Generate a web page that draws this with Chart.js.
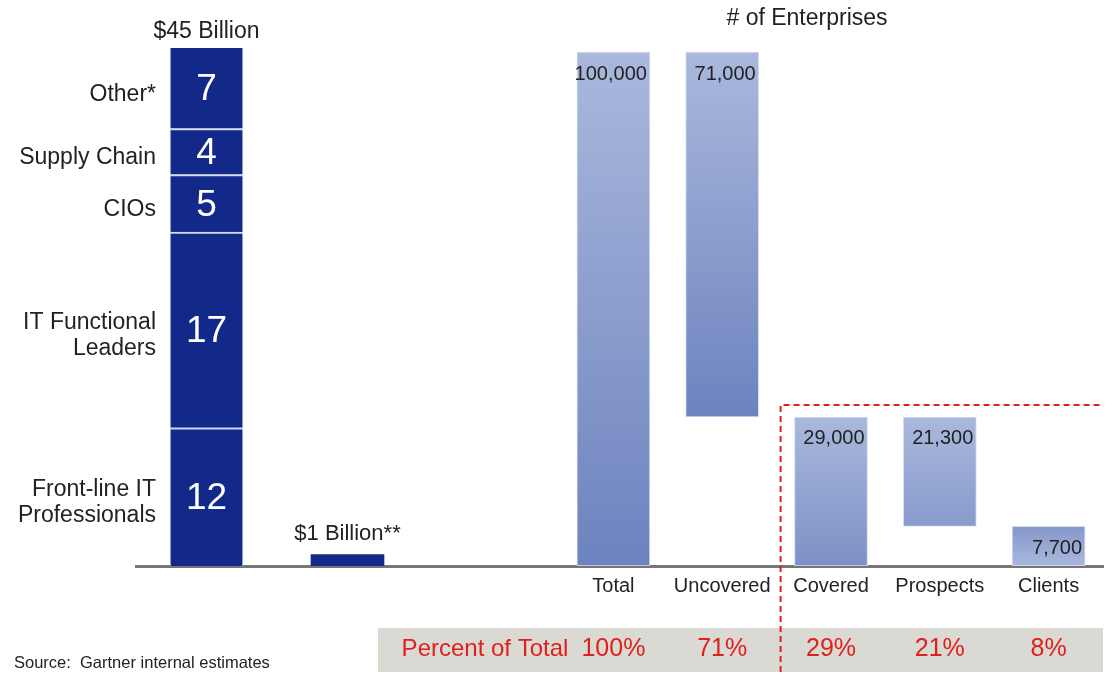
<!DOCTYPE html>
<html>
<head>
<meta charset="utf-8">
<title>IT spend and enterprise coverage</title>
<script src="https://cdn.jsdelivr.net/npm/chart.js@4.4.1/dist/chart.umd.min.js"></script>
<style>
  html, body { margin: 0; background: #fff; }
  .frame { position: relative; width: 1107px; height: 675px; }
</style>
</head>
<body>
<div class="frame"><canvas id="coverage"></canvas></div>
<script>
(function () {
  'use strict';

  // Spend by buyer role, $ billions, stacked bottom to top
  const roleNames = ['Front-line IT\nProfessionals', 'IT Functional\nLeaders', 'CIOs', 'Supply Chain', 'Other*'];
  const roleSpend = [12, 17, 5, 4, 7];
  const gartnerRevenue = 1;
  const spendColumns = ['Market', 'Gartner', ''];

  // Enterprise funnel: every bar runs from a low to a high count
  const funnelSteps = ['Total', 'Uncovered', 'Covered', 'Prospects', 'Clients'];
  const funnelLow = [0, 29000, 0, 7700, 0];
  const funnelHigh = [100000, 100000, 29000, 29000, 7700];
  const percentOfTotal = ['100%', '71%', '29%', '21%', '8%'];

  const FAMILY = "'Liberation Sans', Arial, Helvetica, sans-serif";
  const font = (size) => `${size}px ${FAMILY}`;
  const NAVY = '#13298a';
  const INK = '#222222';
  const RED = '#e0201c';
  const LIGHT = [169, 184, 220];
  const DARK = [109, 131, 191];

  const mix = (t) => {
    const c = LIGHT.map((v, i) => Math.round(v + (DARK[i] - v) * t));
    return `rgb(${c[0]}, ${c[1]}, ${c[2]})`;
  };

  const formatCount = (value) => new Intl.NumberFormat('en-US').format(value);
  const spendTotal = roleSpend.reduce((sum, v) => sum + v, 0);

  // light-to-dark vertical wash per funnel bar; the clients bar runs the other way
  const funnelShade = (context) => {
    const { chart, dataIndex } = context;
    if (!chart.chartArea) {
      return mix(0.5);
    }
    const y = chart.scales.yE;
    const top = y.getPixelForValue(funnelHigh[dataIndex]);
    const bottom = y.getPixelForValue(funnelLow[dataIndex]);
    const gradient = chart.ctx.createLinearGradient(0, top, 0, bottom);
    if (funnelSteps[dataIndex] === 'Clients') {
      gradient.addColorStop(0, mix(0.6));
      gradient.addColorStop(1, mix(0));
    } else {
      gradient.addColorStop(0, mix(0));
      gradient.addColorStop(1, mix(Math.min(1, (bottom - top) / 200)));
    }
    return gradient;
  };

  // bars sit on their own category centre (no grouping across the two x axes)
  const barShape = {
    grouped: false,
    barPercentage: 1,
    categoryPercentage: 1,
    maxBarThickness: 73,
  };

  const roleDatasets = roleSpend.map((value, index) => ({
    ...barShape,
    label: roleNames[index],
    data: [value, null],
    xAxisID: 'xL',
    yAxisID: 'yB',
    backgroundColor: NAVY,
    borderColor: '#d3dbef',
    borderWidth: { top: index === roleSpend.length - 1 ? 0 : 2, left: 1, right: 1, bottom: 0 },
    borderSkipped: false,
  }));

  const annotations = {
    id: 'annotations',
    beforeDraw(chart) {
      const { ctx } = chart;
      const xR = chart.scales.xR;
      // grey strip under the percent row
      const left = xR.left - 181;
      ctx.save();
      ctx.fillStyle = '#dbd9d3';
      ctx.fillRect(left, 628, chart.width - 4 - left, 44);
      ctx.restore();
    },
    afterDatasetsDraw(chart) {
      const { ctx } = chart;
      const xR = chart.scales.xR;
      const yE = chart.scales.yE;
      ctx.save();
      ctx.textBaseline = 'middle';

      // stacked role segments: values inside, names to the left
      roleSpend.forEach((value, index) => {
        const bar = chart.getDatasetMeta(index).data[0];
        const mid = (bar.y + bar.base) / 2;
        ctx.fillStyle = '#ffffff';
        ctx.font = font(37);
        ctx.textAlign = 'center';
        ctx.fillText(String(value), bar.x, mid + 2);

        ctx.fillStyle = INK;
        ctx.font = font(23);
        ctx.textAlign = 'right';
        const lines = roleNames[index].split('\n');
        lines.forEach((line, li) => {
          ctx.fillText(line, bar.x - bar.width / 2 - 14, mid + 6 + (li - (lines.length - 1) / 2) * 26);
        });
      });

      const stackTop = chart.getDatasetMeta(roleSpend.length - 1).data[0];
      ctx.fillStyle = INK;
      ctx.font = font(23);
      ctx.textAlign = 'center';
      ctx.fillText(`$${spendTotal} Billion`, stackTop.x, stackTop.y - 16);

      const gartnerBar = chart.getDatasetMeta(roleSpend.length).data[1];
      ctx.font = font(22);
      ctx.fillText(`$${gartnerRevenue} Billion**`, gartnerBar.x, gartnerBar.y - 21);

      ctx.font = font(23);
      ctx.fillText('# of Enterprises', xR.getPixelForValue(2) - 24, 19);

      // counts inside the funnel bars
      const funnelMeta = chart.getDatasetMeta(roleSpend.length + 1);
      ctx.font = font(20);
      ctx.textAlign = 'right';
      funnelMeta.data.forEach((bar, index) => {
        const count = funnelHigh[index] - funnelLow[index];
        ctx.fillText(formatCount(count), bar.x + bar.width / 2 - 3, bar.y + 22);
      });

      // percent of total row
      ctx.fillStyle = RED;
      ctx.font = font(24);
      ctx.textAlign = 'center';
      ctx.fillText('Percent of Total', xR.left - 74, 649);
      ctx.font = font(25);
      percentOfTotal.forEach((text, index) => {
        ctx.fillText(text, xR.getPixelForValue(index), 649);
      });

      // dashed frame around the covered part of the funnel
      const split = (xR.getPixelForValue(1) + xR.getPixelForValue(2)) / 2 + 4;
      const frameTop = yE.getPixelForValue(funnelHigh[2]) - 12;
      ctx.strokeStyle = RED;
      ctx.lineWidth = 2;
      ctx.setLineDash([6, 4]);
      ctx.beginPath();
      ctx.moveTo(split, 672);
      ctx.lineTo(split, frameTop);
      ctx.lineTo(chart.width - 4, frameTop);
      ctx.stroke();
      ctx.setLineDash([]);

      ctx.fillStyle = INK;
      ctx.font = font(16.5);
      ctx.textAlign = 'left';
      ctx.fillText('Source:  Gartner internal estimates', 14, 663);
      ctx.restore();
    },
  };

  const baseAxis = (labels, weight, showTicks) => ({
    type: 'category',
    labels,
    position: 'bottom',
    stack: 'base',
    stackWeight: weight,
    stacked: true,
    offset: true,
    grid: { display: false, drawTicks: false },
    border: { display: true, color: '#767676', width: 3 },
    ticks: {
      display: showTicks,
      padding: 8,
      color: INK,
      font: { family: FAMILY, size: 20 },
      maxRotation: 0,
      autoSkip: false,
    },
    afterFit: (scale) => {
      scale.height = 109;
      scale.paddingLeft = 0;
      scale.paddingRight = 0;
    },
  });

  new Chart(document.getElementById('coverage'), {
    type: 'bar',
    data: {
      datasets: [
        ...roleDatasets,
        {
          ...barShape,
          label: 'Gartner revenue',
          data: [null, gartnerRevenue],
          xAxisID: 'xL',
          yAxisID: 'yB',
          backgroundColor: NAVY,
          borderWidth: 0,
        },
        {
          ...barShape,
          label: '# of Enterprises',
          data: funnelSteps.map((step, i) => [funnelLow[i], funnelHigh[i]]),
          xAxisID: 'xR',
          yAxisID: 'yE',
          backgroundColor: funnelShade,
          borderColor: '#d6ddf0',
          borderWidth: 1,
          borderSkipped: false,
        },
      ],
    },
    options: {
      responsive: true,
      maintainAspectRatio: false,
      animation: false,
      layout: { padding: { top: 48, left: 136, right: 4, bottom: 0 } },
      plugins: {
        legend: { display: false },
        tooltip: { enabled: false },
      },
      scales: {
        xL: baseAxis(spendColumns, 423, false),
        xR: baseAxis(funnelSteps, 544, true),
        yB: { display: false, stacked: true, min: 0, max: spendTotal },
        yE: { display: false, min: 0, max: 100800 },
      },
    },
    plugins: [annotations],
  });
})();
</script>
</body>
</html>
